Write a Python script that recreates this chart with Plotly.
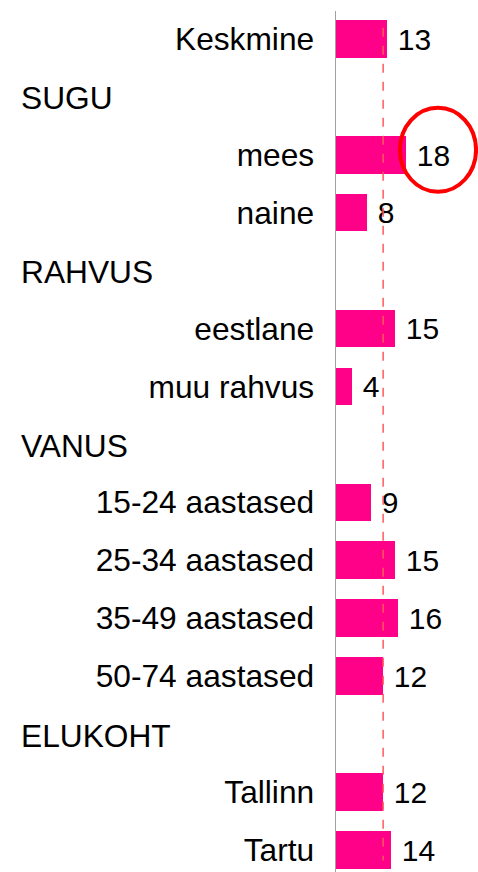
import plotly.graph_objects as go

# rows (top to bottom): items and group headers
row_labels = ["Keskmine", "SUGU", "mees", "naine", "RAHVUS", "eestlane", "muu rahvus",
              "VANUS", "15-24 aastased", "25-34 aastased", "35-49 aastased", "50-74 aastased",
              "ELUKOHT", "Tallinn", "Tartu"]
is_header = [False, True, False, False, True, False, False,
             True, False, False, False, False, True, False, False]
values = [13, None, 18, 8, None, 15, 4, None, 9, 15, 16, 12, None, 12, 14]
average_line = 12.2
highlight_label = "mees"

W, H = 478, 872
FONT = "Arial, Liberation Sans, sans-serif"
BAR_COLOR = "#FF0088"

rows = list(range(len(row_labels)))
item_rows = [r for r in rows if not is_header[r]]
item_vals = [values[r] for r in item_rows]
item_text = [f" {values[r]}" for r in item_rows]

fig = go.Figure()
fig.add_trace(go.Bar(
    x=item_vals, y=item_rows, orientation="h",
    marker=dict(color=BAR_COLOR, line=dict(width=0)),
    width=0.65,
    text=item_text, textposition="outside", cliponaxis=False,
    textfont=dict(family=FONT, size=30, color="black"),
    hoverinfo="skip",
))

# group headers
for r in rows:
    if is_header[r]:
        fig.add_annotation(x=19 / W, xref="paper", y=r + 0.03, yref="y", text=row_labels[r],
                           showarrow=False, xanchor="left", yanchor="middle",
                           font=dict(family=FONT, size=31.7, color="black"))

# average dashed line
fig.add_shape(type="line", xref="x", yref="y", x0=average_line, x1=average_line,
              y0=-0.19, y1=len(rows) - 1 + 0.18,
              line=dict(color="#FF5A5A", width=1.5, dash="dash"))

# highlight circle around the largest value label
hr = row_labels.index(highlight_label)
hv = values[hr]
fig.add_shape(type="circle", xref="x", yref="y",
              x0=hv - 1.5, x1=hv + 18.0, y0=hr - 0.81, y1=hr + 0.64,
              line=dict(color="#FF0000", width=4))

fig.update_layout(
    width=W, height=H,
    margin=dict(l=0, r=0, t=0, b=0),
    paper_bgcolor="white", plot_bgcolor="white",
    showlegend=False,
    bargap=0,
    xaxis=dict(domain=[335.5 / W, 1], range=[0, 36.5], showgrid=False, zeroline=False,
               showticklabels=False, ticks="", showline=False, fixedrange=True),
    yaxis=dict(domain=[0, 861 / H], range=[14.38, -0.48], autorange=False,
               tickmode="array", tickvals=item_rows,
               ticktext=[row_labels[r] for r in item_rows],
               tickfont=dict(family=FONT, size=31.7, color="black"),
               ticks="", ticklabelstandoff=14,
               showgrid=False, zeroline=False,
               showline=True, linecolor="#A0A0A0", linewidth=1),
)

fig.write_html("out.html", config={"displayModeBar": False},
               post_script="document.body.style.margin='0';document.body.style.overflow='hidden';")
